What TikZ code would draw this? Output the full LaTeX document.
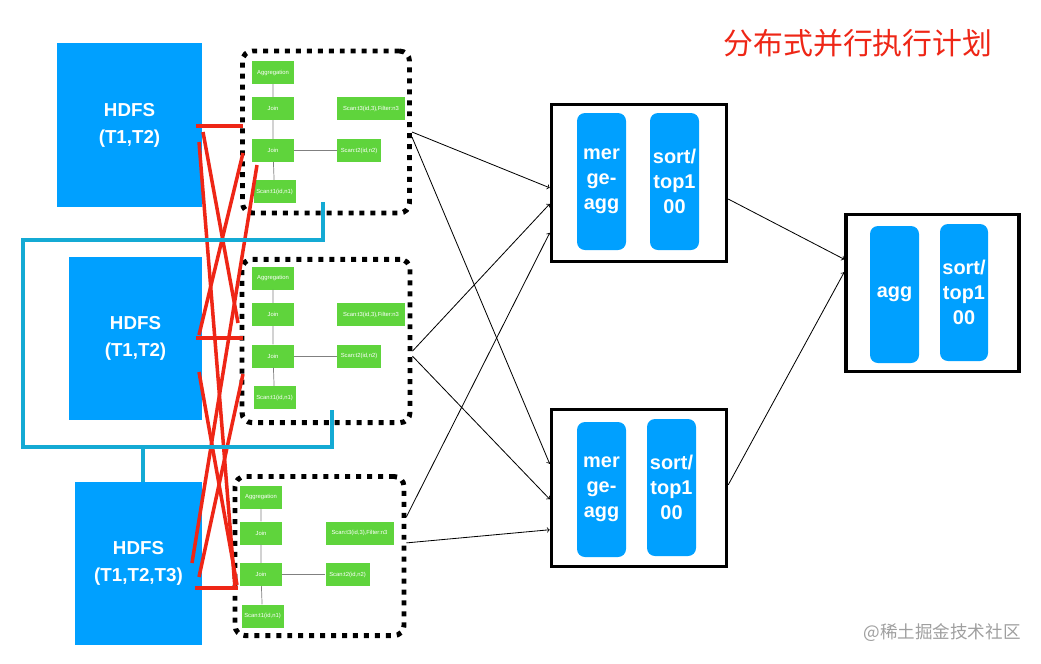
\documentclass[tikz,border=0pt]{standalone}
\usepackage{fontspec}
\setmainfont{Liberation Sans}
\newfontfamily\cjk{Noto Sans CJK SC}
\usetikzlibrary{calc}
\definecolor{hdfsblue}{RGB}{0,160,255}
\definecolor{opgreen}{RGB}{95,212,60}
\definecolor{linkred}{RGB}{238,38,22}
\definecolor{wirecyan}{RGB}{20,170,212}

\begin{document}
\begin{tikzpicture}[x=0.03cm,y=-0.03cm,
    hdfs/.style={fill=hdfsblue,text=white,align=center,inner sep=0pt,font=\bfseries\fontsize{16}{23}\selectfont},
    plan/.style={draw,line width=4.25pt,dash pattern=on 4.25pt off 5.1pt,rounded corners=0.3cm,inner sep=0pt},
    op/.style={fill=opgreen,text=white,minimum width=1.26cm,minimum height=0.69cm,inner sep=0pt,font=\fontsize{5}{6}\selectfont},
    stage/.style={draw,line width=3pt,minimum width=5.25cm,minimum height=4.71cm,inner sep=0pt},
    task/.style={fill=hdfsblue,rounded corners=0.24cm,text=white,align=center,minimum width=1.47cm,minimum height=4.11cm,inner sep=0pt,font=\bfseries\fontsize{17}{21.5}\selectfont},
    flow/.style={->,line width=0.7pt},
    tree/.style={gray,line width=0.6pt},
    redline/.style={linkred,line width=3pt},
    wire/.style={wirecyan,line width=3.4pt},
  ]
    \useasboundingbox (0,0) rectangle (1041,663);

    % storage
    \node[hdfs,minimum width=4.35cm,minimum height=4.92cm] (hdfs1) at (129.5,125) {HDFS\\(T1,T2)};
    \node[hdfs,minimum width=3.99cm,minimum height=4.89cm] (hdfs2) at (135.5,338.5) {HDFS\\(T1,T2)};
    \node[hdfs,minimum width=3.81cm,minimum height=4.89cm] (hdfs3) at (138.5,563.5) {HDFS\\(T1,T2,T3)};

    % local plans
    \node[plan,minimum width=5.01cm,minimum height=4.86cm] (plan1) at (326,132) {};
    \node[plan,minimum width=5.04cm,minimum height=4.9cm] (plan2) at (326,341) {};
    \node[plan,minimum width=5.07cm,minimum height=4.77cm] (plan3) at (319.5,556) {};

    \node[op] (agg1) at (273,72.5) {Aggregation};
    \node[op] (join1a) at (273,108.5) {Join};
    \node[op,minimum width=2.04cm] (scan1c) at (371,108.5) {Scan:t3(id,3),Filter:n3};
    \node[op] (join1b) at (273,150.5) {Join};
    \node[op,minimum width=1.32cm] (scan1b) at (359,150.5) {Scan:t2(id,n2)};
    \node[op] (scan1a) at (274.5,191.5) {Scan:t1(id,n1)};
    \draw[tree] (agg1) -- (join1a) -- (join1b) -- (scan1a);
    \draw[tree] (join1b) -- (scan1b);

    \node[op] (agg2) at (273,278) {Aggregation};
    \node[op] (join2a) at (273,314.5) {Join};
    \node[op,minimum width=2.04cm] (scan2c) at (371,314.5) {Scan:t3(id,3),Filter:n3};
    \node[op] (join2b) at (273,356) {Join};
    \node[op,minimum width=1.32cm] (scan2b) at (359,356) {Scan:t2(id,n2)};
    \node[op] (scan2a) at (274.5,397.5) {Scan:t1(id,n1)};
    \draw[tree] (agg2) -- (join2a) -- (join2b) -- (scan2a);
    \draw[tree] (join2b) -- (scan2b);

    \node[op] (agg3) at (261,497) {Aggregation};
    \node[op] (join3a) at (261,533) {Join};
    \node[op,minimum width=2.04cm] (scan3c) at (359.5,533) {Scan:t3(id,3),Filter:n3};
    \node[op] (join3b) at (261,574.5) {Join};
    \node[op,minimum width=1.32cm] (scan3b) at (347.5,574.5) {Scan:t2(id,n2)};
    \node[op] (scan3a) at (262.5,616) {Scan:t1(id,n1)};
    \draw[tree] (agg3) -- (join3a) -- (join3b) -- (scan3a);
    \draw[tree] (join3b) -- (scan3b);

    % merge stages
    \node[stage] (merge1) at (639,183) {};
    \node[task] (magg1) at (601.5,181.5) {mer\\ge-\\agg};
    \node[task] (sort1) at (674.5,181.5) {sort/\\top1\\00};
    \node[stage] (merge2) at (639,488) {};
    \node[task,minimum height=4.05cm] (magg2) at (601.5,489.5) {mer\\ge-\\agg};
    \node[task] (sort2) at (671.5,487.5) {sort/\\top1\\00};
    \node[stage,minimum width=5.19cm] (final) at (932.5,293) {};
    \node[task] (fagg) at (894.5,294.5) {agg};
    \node[task,minimum width=1.44cm] (fsort) at (964,292.5) {sort/\\top1\\00};

    \draw[flow] ($(plan1.north east)!0.5!(plan1.south east)$) -- ($(merge1.north west)!0.53!(merge1.south west)$);
    \draw[flow] ($(plan1.north east)!0.53!(plan1.south east)$) -- ($(merge2.north west)!0.35!(merge2.south west)$);
    \draw[flow] ($(plan2.north east)!0.56!(plan2.south east)$) -- ($(merge1.north west)!0.63!(merge1.south west)$);
    \draw[flow] ($(plan2.north east)!0.59!(plan2.south east)$) -- ($(merge2.north west)!0.57!(merge2.south west)$);
    \draw[flow] ($(plan3.north east)!0.26!(plan3.south east)$) -- ($(merge1.north west)!0.81!(merge1.south west)$);
    \draw[flow] ($(plan3.north east)!0.42!(plan3.south east)$) -- ($(merge2.north west)!0.76!(merge2.south west)$);
    \draw[flow] ($(merge1.north east)!0.6!(merge1.south east)$) -- ($(final.north west)!0.29!(final.south west)$);
    \draw[flow] ($(merge2.north east)!0.48!(merge2.south east)$) -- ($(final.north west)!0.37!(final.south west)$);

    % shuffle
    \draw[redline] (196,126) -- (243,126);
    \draw[redline] (196,338) -- (243,338);
    \draw[redline] (195,588) -- (238,588);
    \draw[redline] (203,132) -- (238,323);
    \draw[redline] (243,153) -- (199,335);
    \draw[redline] (199,142) -- (235,588);
    \draw[redline] (257,165) -- (192,563);
    \draw[redline] (199,372) -- (237,585);
    \draw[redline] (243,374) -- (199,577);

    % grouping
    \draw[wire] (323,202) -- (323,240) -- (23,240) -- (23,447) -- (332,447) -- (332,410);
    \draw[wire] (143,447) -- (143,482);

    \node[text=linkred,font=\cjk\fontsize{25.5}{27}\selectfont] (title) at (858,43) {分布式并行执行计划};
    \node[text=gray!75,font=\cjk\fontsize{15}{16}\selectfont] (mark) at (942,633) {@稀土掘金技术社区};
\end{tikzpicture}
\end{document}
